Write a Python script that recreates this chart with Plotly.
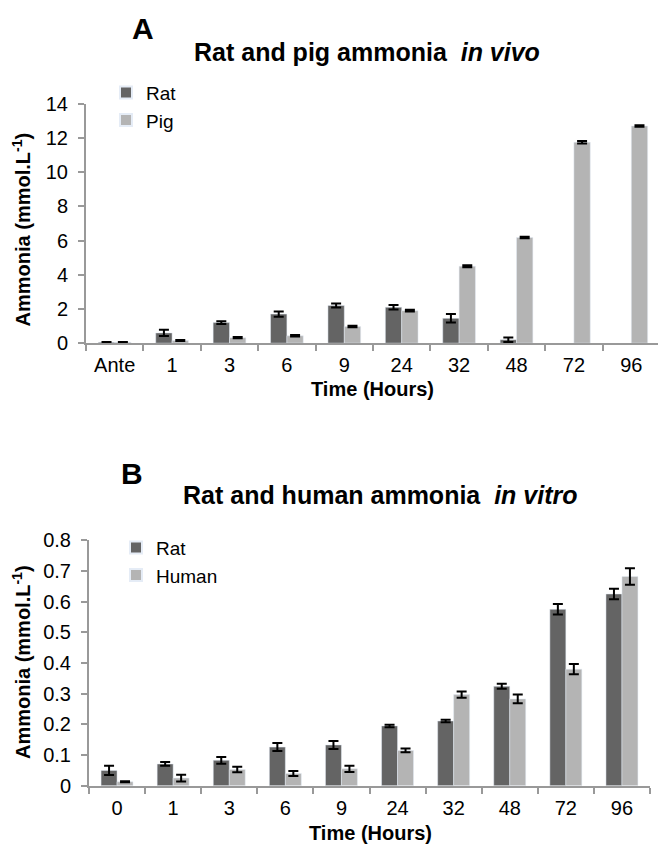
import plotly.graph_objects as go

# page body has an 8px default margin, so the figure is drawn 8px in
OFF = 8
W, H = 666 - OFF, 863 - OFF

# ---- Chart A data ----
cats_a = ["Ante", "1", "3", "6", "9", "24", "32", "48", "72", "96"]
rat_a = [0.05, 0.6, 1.2, 1.7, 2.2, 2.1, 1.45, 0.2, None, None]
rat_a_err = [0.02, 0.18, 0.08, 0.15, 0.12, 0.13, 0.25, 0.13, None, None]
pig_a = [0.05, 0.15, 0.32, 0.43, 0.97, 1.9, 4.5, 6.18, 11.75, 12.7]
pig_a_err = [0.02, 0.03, 0.04, 0.04, 0.04, 0.05, 0.06, 0.04, 0.07, 0.05]

# ---- Chart B data ----
cats_b = ["0", "1", "3", "6", "9", "24", "32", "48", "72", "96"]
rat_b = [0.05, 0.071, 0.083, 0.126, 0.133, 0.195, 0.211, 0.324, 0.575, 0.625]
rat_b_err = [0.015, 0.006, 0.011, 0.013, 0.013, 0.004, 0.004, 0.008, 0.017, 0.017]
hum_b = [0.013, 0.025, 0.053, 0.04, 0.055, 0.115, 0.297, 0.283, 0.38, 0.682]
hum_b_err = [0.002, 0.011, 0.009, 0.008, 0.01, 0.006, 0.01, 0.014, 0.017, 0.027]

DARK = "#646464"
LIGHT = "#b4b4b4"
AXIS = "#999999"
FONT = "Liberation Sans, Arial, sans-serif"


def px_x(p):
    return (p - OFF) / W


def px_y(p):
    return 1 - (p - OFF) / H


def err(vals):
    return dict(type="data", array=vals, visible=True, color="black",
                thickness=2, width=5)


fig = go.Figure()
fig.add_trace(go.Bar(x=cats_a, y=rat_a, name="Rat", marker_color=DARK,
                     error_y=err(rat_a_err), xaxis="x", yaxis="y",
                     legend="legend"))
fig.add_trace(go.Bar(x=cats_a, y=pig_a, name="Pig", marker_color=LIGHT,
                     error_y=err(pig_a_err), xaxis="x", yaxis="y",
                     legend="legend"))
fig.add_trace(go.Bar(x=cats_b, y=rat_b, name="Rat", marker_color=DARK,
                     error_y=err(rat_b_err), xaxis="x2", yaxis="y2",
                     legend="legend2"))
fig.add_trace(go.Bar(x=cats_b, y=hum_b, name="Human", marker_color=LIGHT,
                     error_y=err(hum_b_err), xaxis="x2", yaxis="y2",
                     legend="legend2"))

tickfont = dict(family=FONT, size=20, color="black")
xcommon = dict(type="category", showline=True, linecolor=AXIS, linewidth=2,
               ticks="outside", tickson="boundaries", ticklen=6,
               tickcolor=AXIS, tickwidth=2, showgrid=False, tickfont=tickfont,
               zeroline=False, ticklabelstandoff=3)
ycommon = dict(showline=True, linecolor=AXIS, linewidth=2, ticks="outside",
               ticklen=6, tickcolor=AXIS, tickwidth=2, showgrid=False,
               tickfont=tickfont, zeroline=False, ticklabelstandoff=6)

fig.update_layout(
    width=W, height=H,
    margin=dict(l=0, r=0, t=0, b=0),
    paper_bgcolor="white", plot_bgcolor="white",
    barmode="group", bargap=0.43, bargroupgap=0,
    font=dict(family=FONT, color="black"),
    xaxis=dict(domain=[px_x(86), px_x(660)], anchor="y", **xcommon),
    yaxis=dict(domain=[px_y(340.7), px_y(95)], anchor="x", range=[0, 14],
               dtick=2, **ycommon),
    xaxis2=dict(domain=[px_x(89), px_x(650)], anchor="y2", **xcommon),
    yaxis2=dict(domain=[px_y(795), px_y(543)], anchor="x2", range=[0, 0.8],
                dtick=0.1, tickformat=".1~f", **ycommon),
    legend=dict(x=px_x(106), y=px_y(64), xanchor="left", yanchor="top",
                font=dict(family=FONT, size=19), bgcolor="rgba(0,0,0,0)",
                tracegroupgap=0, itemsizing="constant"),
    legend2=dict(x=px_x(116), y=px_y(531), xanchor="left", yanchor="top",
                 font=dict(family=FONT, size=19), bgcolor="rgba(0,0,0,0)",
                 tracegroupgap=0, itemsizing="constant"),
)

B = dict(family=FONT, color="black")
ann = [
    dict(text="<b>A</b>", x=px_x(143), y=px_y(18), font=dict(size=30, **B)),
    dict(text="<b>Rat and pig ammonia&nbsp;&nbsp;<i>in vivo</i></b>",
         x=px_x(367), y=px_y(42), font=dict(size=25, **B)),
    dict(text="<b>B</b>", x=px_x(132), y=px_y(475), font=dict(size=30, **B)),
    dict(text="<b>Rat and human ammonia&nbsp;&nbsp;<i>in vitro</i></b>",
         x=px_x(381), y=px_y(497), font=dict(size=25, **B)),
    dict(text="<b>Ammonia (mmol.L<sup>-1</sup>)</b>", x=px_x(21),
         y=px_y(224), textangle=-90, font=dict(size=20, **B)),
    dict(text="<b>Ammonia (mmol.L<sup>-1</sup>)</b>", x=px_x(21),
         y=px_y(668), textangle=-90, font=dict(size=20, **B)),
    dict(text="<b>Time (Hours)</b>", x=px_x(373), y=px_y(388),
         font=dict(size=20, **B)),
    dict(text="<b>Time (Hours)</b>", x=px_x(370), y=px_y(843),
         font=dict(size=20, **B)),
]
for a in ann:
    a.update(xref="paper", yref="paper", xanchor="center", yanchor="middle",
             showarrow=False)
fig.update_layout(annotations=ann)

fig.write_html("out.html")
